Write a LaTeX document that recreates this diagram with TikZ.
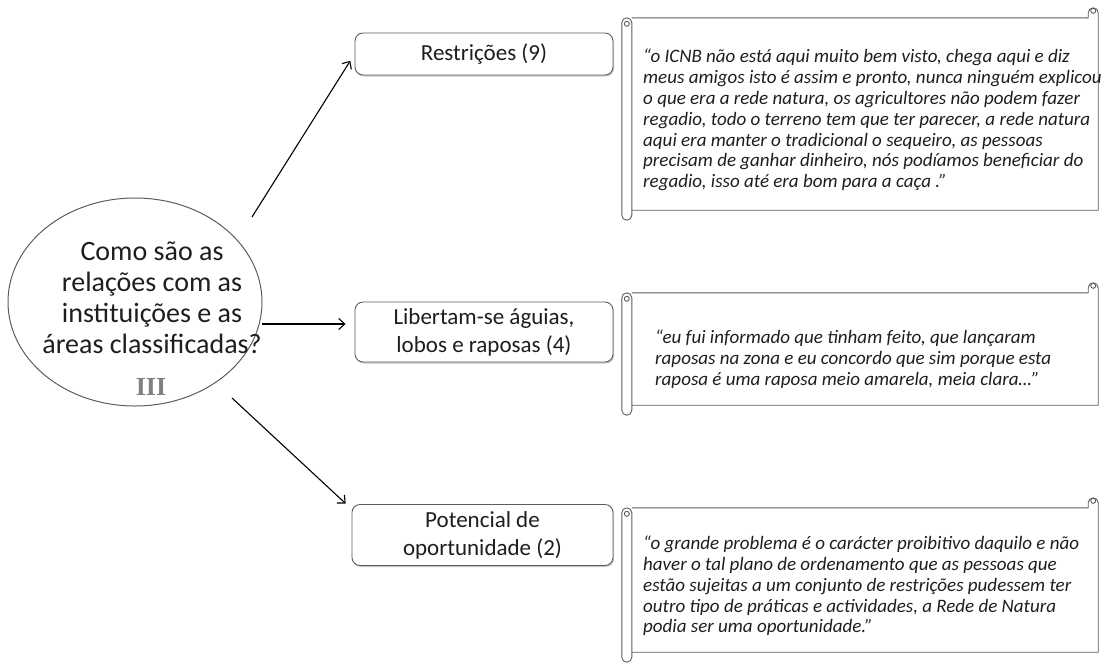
\documentclass[tikz,border=0pt]{standalone}
\usepackage{fontspec}
\setmainfont{Carlito}
\newfontfamily\numfont{Liberation Serif}
\usetikzlibrary{positioning, arrows.meta, shapes.geometric, shadows}

\definecolor{inkgray}{HTML}{1E1E1E}
\definecolor{edgegray}{HTML}{5C5C5C}

% scroll outline round a body node
\newcommand\scrollparts[1]{%
  \draw[scrl] (#1.north west) -- ([xshift=-10pt]#1.north east) -- ++(0pt,5pt)
    arc[start angle=180, end angle=0, radius=5pt] -- (#1.south east) -- (#1.south west);
  \draw[scrl] ([xshift=-5pt,yshift=7pt]#1.north east) circle[radius=2.5pt];
  \draw[scrl, fill=white, rounded corners=5pt] ([xshift=-10pt]#1.north west) rectangle ([yshift=-10pt]#1.south west);
  \draw[scrl] ([xshift=-5pt,yshift=-6pt]#1.north west) circle[radius=2.5pt];
}

\begin{document}
\begin{tikzpicture}[
    x=1pt, y=-1pt,
    quest/.style={ellipse, draw=edgegray, line width=1pt, minimum width=254pt, minimum height=208pt, inner sep=0pt},
    qtext/.style={align=center, text=inkgray, font=\fontsize{28}{31}\selectfont, inner sep=0pt},
    qnum/.style={text=gray, font=\numfont\bfseries\fontsize{26}{26}\selectfont, inner sep=0pt},
    cat/.style={draw=edgegray, line width=0.9pt, rounded corners=8pt, fill=white, minimum width=258pt, align=center, text=inkgray,
        font=\fontsize{23}{28}\selectfont, drop shadow={shadow xshift=1pt, shadow yshift=-1.5pt, opacity=0.45, fill=gray}},
    scrollbody/.style={minimum width=466pt, inner sep=0pt},
    scrl/.style={draw=edgegray, line width=0.9pt},
    quote/.style={anchor=west, align=left, inner sep=0pt, text=inkgray, font=\itshape\fontsize{19}{20.8}\selectfont},
    arr/.style={-{Straight Barb[length=6pt, width=11pt]}, line width=1.1pt},
]
\useasboundingbox (0,0) rectangle (1102,662);

% Question
\node[quest] (q) at (135,302) {};
\node[qtext] (qt) at (152,298) {Como são as\\relações com as\\instituições e as\\áreas classificadas?};
\node[qnum] (qn) at (151,387) {III};

% Categories
\node[cat, minimum height=42pt] (b1) at (484,54) {Restrições (9)};
\node[cat, minimum height=60pt] (b2) at (484,332) {Libertam-se águias,\\lobos e raposas (4)};
\node[cat, minimum height=61pt, minimum width=261pt] (b3) at (482.5,535) {Potencial de\\oportunidade (2)};

% Scrolls
\node[scrollbody, minimum height=192pt] (s1) at (865,114) {};
\node[scrollbody, minimum height=112pt] (s2) at (865,349) {};
\node[scrollbody, minimum height=144pt] (s3) at (865,580) {};
\scrollparts{s1}
\scrollparts{s2}
\scrollparts{s3}

% Quotes
\node[quote] (c1) at (643,120) {“o ICNB não está aqui muito bem visto, chega aqui e diz\\
meus amigos isto é assim e pronto, nunca ninguém explicou\\
o que era a rede natura, os agricultores não podem fazer\\
regadio, todo o terreno tem que ter parecer, a rede natura\\
aqui era manter o tradicional o sequeiro, as pessoas\\
precisam de ganhar dinheiro, nós podíamos beneficiar do\\
regadio, isso até era bom para a caça .”};
\node[quote] (c2) at (655,359) {“eu fui informado que tinham feito, que lançaram\\
raposas na zona e eu concordo que sim porque esta\\
raposa é uma raposa meio amarela, meia clara…”};
\node[quote] (c3) at (643,586) {“o grande problema é o carácter proibitivo daquilo e não\\
haver o tal plano de ordenamento que as pessoas que\\
estão sujeitas a um conjunto de restrições pudessem ter\\
outro tipo de práticas e actividades, a Rede de Natura\\
podia ser uma oportunidade.”};

% Arrows
\coordinate (a1) at (252,217);
\coordinate (a2) at (262,324);
\coordinate (a3) at (232,398);
\draw[arr, shorten >=8pt] (a1) -- (b1.west);
\draw[arr, shorten >=9pt] (a2) -- (a2 -| b2.west);
\draw[arr, shorten >=8pt] (a3) -- ([yshift=-5pt]b3.north west);
\end{tikzpicture}
\end{document}
